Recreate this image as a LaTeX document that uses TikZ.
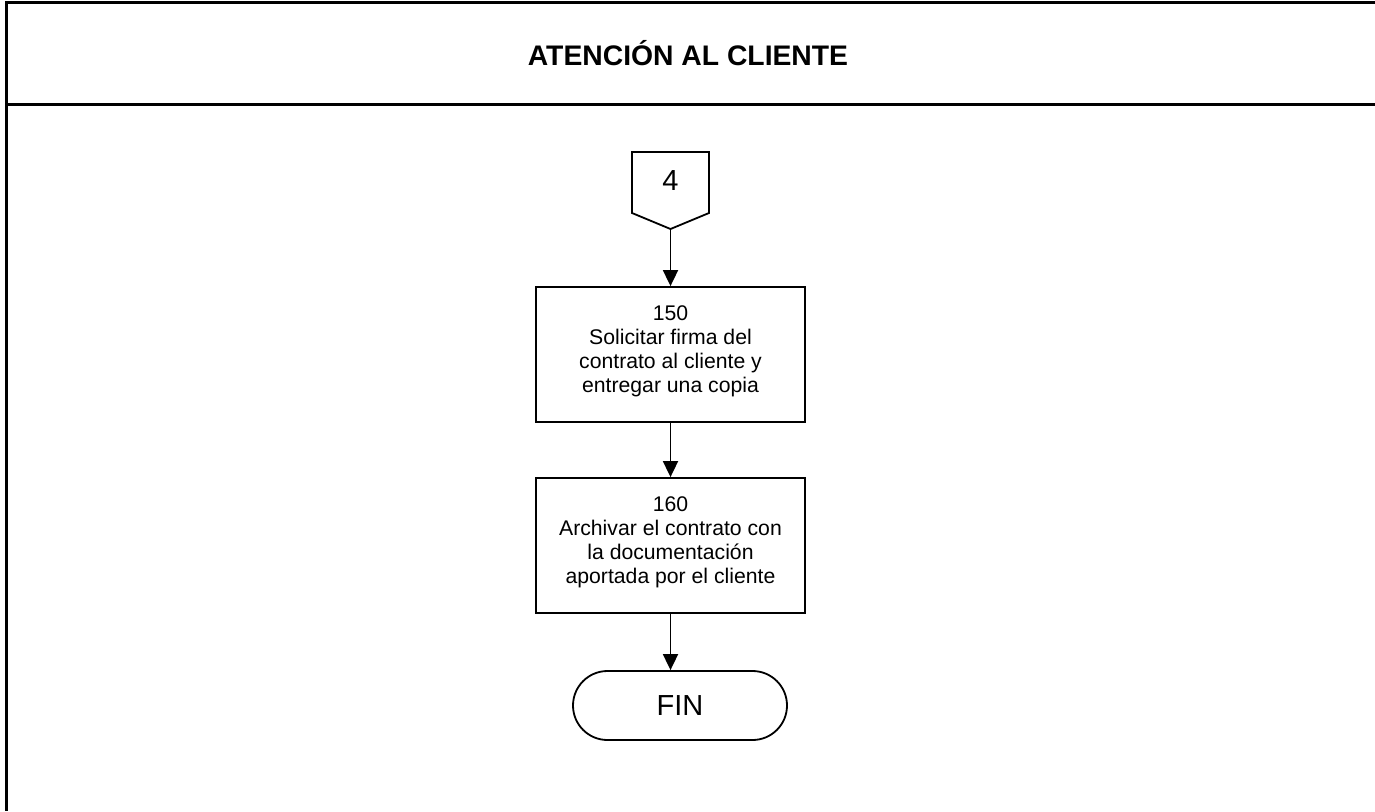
\documentclass[tikz,border=0pt]{standalone}
\usepackage{fontspec}
\setmainfont{Liberation Sans}
\usetikzlibrary{arrows.meta,shapes.misc}
\begin{document}
\begin{tikzpicture}[x=1pt,y=-1pt,
  frame/.style={line width=3pt},
  proc/.style={draw,line width=1.8pt,minimum width=269pt,minimum height=135pt,inner sep=0pt},
  ptext/.style={inner sep=0pt,align=center,font=\fontsize{21.2}{24}\selectfont},
  flow/.style={line width=1.8pt,-{Triangle[width=15pt,length=16pt]}},
  term/.style={draw,line width=1.8pt,rounded rectangle,minimum width=214pt,minimum height=69pt,inner sep=0pt,font=\fontsize{29}{32}\selectfont}]
\useasboundingbox (0,0) rectangle (1375,811);
% frame
\draw[frame] (1375,2) -- (6,2) -- (6,811);
\draw[frame] (6,104) -- (1375,104);
\node[font=\bfseries\fontsize{28.3}{32}\selectfont] (title) at (688,53) {ATENCIÓN AL CLIENTE};
% off-page connector
\draw[line width=1.8pt] (632,152) -- (709,152) -- (709,213) -- (670.5,229) -- (632,213) -- cycle;
\coordinate (c4) at (670.5,229);
\node[font=\fontsize{29}{32}\selectfont] (n4) at (670.5,181) {4};
% process boxes
\node[proc] (b150) at (670.5,354.5) {};
\node[ptext] (t150) at (670.5,351) {150\\Solicitar firma del\\contrato al cliente y\\entregar una copia};
\node[proc] (b160) at (670.5,545.5) {};
\node[ptext] (t160) at (670.5,542) {160\\Archivar el contrato con\\la documentación\\aportada por el cliente};
\node[term] (fin) at (680,705.5) {FIN};
% connectors
\draw[flow] (c4) -- (b150.north);
\draw[flow] (b150.south) -- (b160.north);
\draw[flow] (b160.south) -- (b160.south |- fin.north);
\end{tikzpicture}
\end{document}
